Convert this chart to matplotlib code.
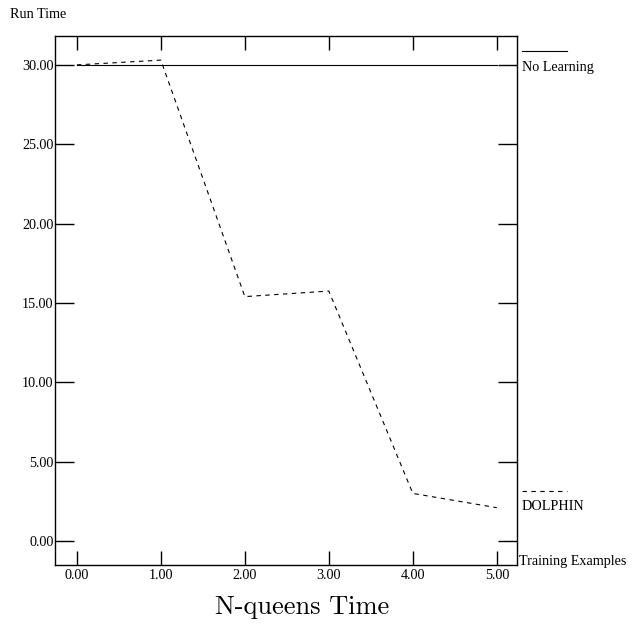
import matplotlib
matplotlib.use("Agg")
import matplotlib.pyplot as plt

x_vals = [0, 1, 2, 3, 4, 5]
no_learning = [30.0, 30.0, 30.0, 30.0, 30.0, 30.0]
dolphin = [30.0, 30.3, 15.4, 15.75, 3.0, 2.1]
xticks = [0, 1, 2, 3, 4, 5]
yticks = [0, 5, 10, 15, 20, 25, 30]

fig = plt.figure(figsize=(6.32, 6.27), dpi=100)
W, H = 632, 627
L, R, T, B = 55, 517, 36, 565
ax = fig.add_axes([L / W, 1 - B / H, (R - L) / W, (B - T) / H])

ax.plot(x_vals, no_learning, color="black", lw=0.8)
ax.plot(x_vals, dolphin, color="black", lw=0.8, dashes=(4, 4))

fs = 10.2
serif = "Liberation Serif"
ax.set_xlim(-0.26, 5.24)
ax.set_ylim(-1.51, 31.82)
ax.set_xticks(xticks)
ax.set_yticks(yticks)
ax.set_xticklabels(["%.2f" % v for v in xticks], family=serif, fontsize=fs)
ax.set_yticklabels(["%.2f" % v for v in yticks], family=serif, fontsize=fs)
ax.tick_params(axis="x", direction="in", length=10, width=1, top=True, bottom=True, pad=3)
ax.tick_params(axis="y", direction="in", length=14, width=1, left=True, right=True, pad=1)
for s in ax.spines.values():
    s.set_linewidth(1)

fig.text(10 / W, 1 - 14 / H, "Run Time", family=serif, fontsize=fs, va="center", ha="left")
fig.text(519 / W, 1 - 562 / H, "Training Examples", family=serif, fontsize=fs, va="center", ha="left")

# legend
fig.add_artist(plt.Line2D([522 / W, 567 / W], [1 - 51 / H, 1 - 51 / H], color="black", lw=0.8))
fig.text(522 / W, 1 - 68 / H, "No Learning", family=serif, fontsize=fs, va="center", ha="left")
fig.add_artist(plt.Line2D([522 / W, 567 / W], [1 - 491 / H, 1 - 491 / H], color="black", lw=0.8, dashes=(4, 4)))
fig.text(522 / W, 1 - 506 / H, "DOLPHIN", family=serif, fontsize=fs, va="center", ha="left")

fig.text(302 / W, 1 - 614 / H, "N-queens Time", family="cmr10", fontsize=19, va="baseline", ha="center")

fig.savefig("out.png", dpi=100)
